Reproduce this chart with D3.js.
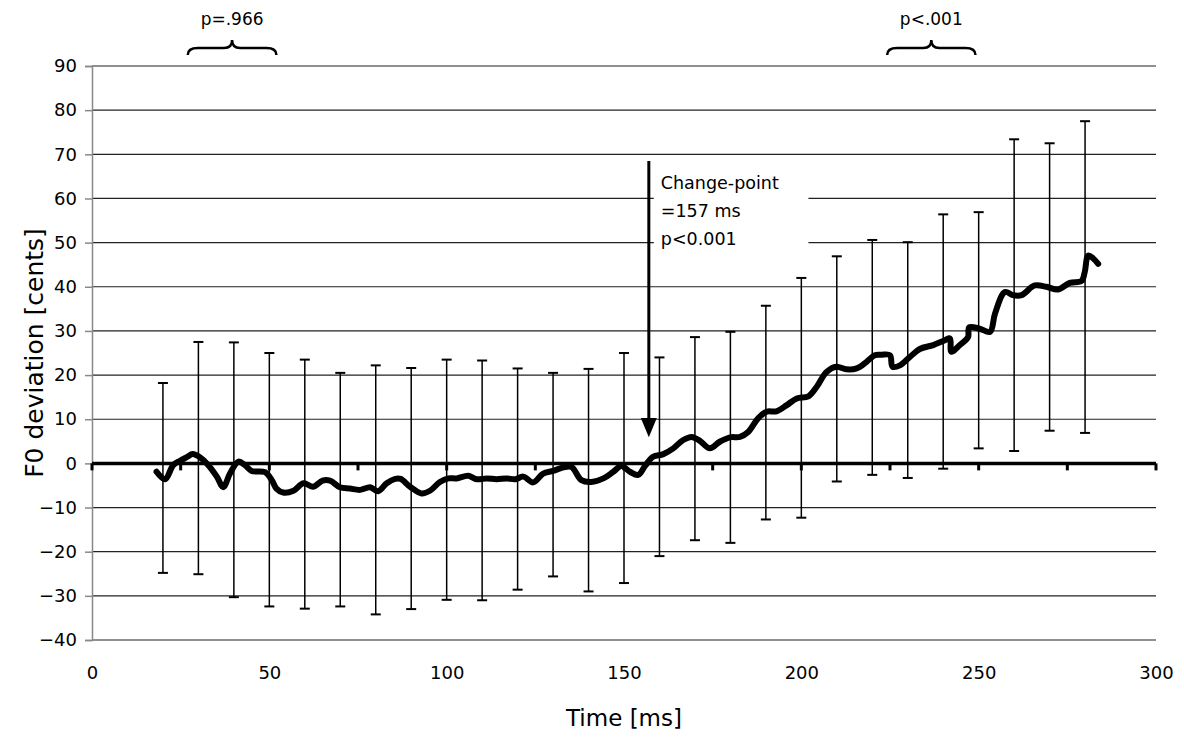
<!DOCTYPE html>
<html>
<head>
<meta charset="utf-8">
<script src="https://cdn.jsdelivr.net/npm/d3@7"></script>
<style>
  body { margin: 0; background: #fff; }
  svg { display: block; }
  text { font-family: "DejaVu Sans", Verdana, sans-serif; fill: #000; }
</style>
</head>
<body>
<svg width="1184" height="740"></svg>
<script>
// error bars, every 10 ms
const barTime = [20, 30, 40, 50, 60, 70, 80, 90, 100, 110, 120, 130, 140, 150, 160, 170, 180, 190, 200, 210, 220, 230, 240, 250, 260, 270, 280];
const barUpper = [18.2, 27.5, 27.4, 25.0, 23.5, 20.5, 22.2, 21.6, 23.5, 23.3, 21.5, 20.5, 21.4, 25.0, 24.0, 28.6, 29.8, 35.7, 42.0, 46.9, 50.6, 50.1, 56.4, 56.9, 73.4, 72.5, 77.5];
const barLower = [-24.8, -25.1, -30.3, -32.4, -32.9, -32.4, -34.2, -33.0, -30.9, -31.0, -28.6, -25.6, -29.0, -27.1, -21.0, -17.4, -18.0, -12.7, -12.3, -4.1, -2.6, -3.3, -1.2, 3.4, 2.8, 7.4, 6.9];

// mean F0 deviation curve
const meanTime = [18.2, 20.6, 22.9, 24.8, 26.7, 28.4, 30.4, 32.8, 35.2, 37.0, 38.9, 41.3, 43.1, 45.0, 48.8, 50.7, 52.0, 53.9, 56.8, 59.6, 62.4, 65.0, 67.1, 69.9, 72.7, 75.6, 78.4, 80.7, 83.1, 85.5, 87.0, 89.7, 92.9, 95.3, 98.1, 100.5, 102.8, 106.1, 108.5, 111.3, 114.1, 116.9, 119.3, 121.6, 124.4, 127.2, 130.0, 132.9, 135.2, 138.0, 140.8, 144.2, 147.0, 149.3, 151.7, 154.0, 156.0, 158.2, 161.1, 163.9, 166.7, 169.1, 171.4, 174.2, 177.0, 179.9, 182.7, 185.0, 187.8, 190.2, 193.0, 195.9, 198.7, 202.0, 204.3, 207.1, 209.9, 212.7, 215.6, 218.4, 220.7, 222.5, 225.0, 225.7, 227.8, 230.6, 233.4, 237.2, 240.5, 241.9, 242.3, 244.7, 247.0, 247.3, 250.3, 253.2, 254.6, 257.4, 259.7, 262.1, 265.8, 269.1, 272.4, 275.7, 279.0, 279.9, 280.9, 282.3, 283.7];
const meanValue = [-1.9, -3.6, -0.4, 0.6, 1.4, 2.1, 1.4, -0.4, -3.0, -5.4, -2.3, 0.4, -0.4, -1.7, -2.0, -3.8, -5.7, -6.6, -6.2, -4.5, -5.3, -3.9, -3.9, -5.4, -5.7, -6.0, -5.4, -6.3, -4.5, -3.5, -3.5, -5.3, -6.8, -6.2, -4.2, -3.4, -3.4, -2.8, -3.6, -3.4, -3.6, -3.4, -3.6, -3.0, -4.3, -2.3, -1.7, -0.9, -0.8, -3.8, -4.2, -3.4, -1.9, -0.6, -1.9, -2.6, -0.5, 1.5, 2.1, 3.4, 5.3, 6.0, 5.1, 3.4, 4.9, 5.9, 6.0, 7.1, 10.2, 11.7, 11.8, 13.2, 14.7, 15.2, 17.3, 20.7, 21.9, 21.3, 21.5, 23.0, 24.5, 24.6, 24.5, 21.9, 22.2, 24.1, 25.9, 26.8, 27.9, 28.3, 25.3, 26.8, 28.6, 30.8, 30.5, 29.8, 33.9, 38.8, 38.1, 38.1, 40.3, 40.0, 39.4, 40.9, 41.3, 43.3, 47.1, 46.4, 45.2];

const xTicks = [0, 50, 100, 150, 200, 250, 300];
const yTicks = [-40, -30, -20, -10, 0, 10, 20, 30, 40, 50, 60, 70, 80, 90];
const zeroTicks = d3.range(0, 301, 25);

const changePoint = 157;
const changeText = ["Change-point", "=157 ms", "p<0.001"];
const braces = [
  { from: 27, to: 52, label: "p=.966" },
  { from: 224.2, to: 249.1, label: "p<.001" }
];

const svg = d3.select("svg");
const x = d3.scaleLinear().domain([0, 300]).range([92, 1156]);
const y = d3.scaleLinear().domain([-40, 90]).range([640, 66]);

// horizontal gridlines
svg.append("g")
  .selectAll("line")
  .data(yTicks.filter(d => d !== 0))
  .join("line")
  .attr("x1", x(0)).attr("x2", x(300))
  .attr("y1", d => y(d)).attr("y2", d => y(d))
  .attr("stroke", "#222").attr("stroke-width", 1.2);

// y axis
const yAxis = svg.append("g")
  .attr("transform", `translate(${x(0)},0)`)
  .call(d3.axisLeft(y).tickValues(yTicks).tickSize(7).tickPadding(8).tickFormat(d3.format("d")));
yAxis.select(".domain").attr("stroke", "#888").attr("stroke-width", 1.5);
yAxis.selectAll(".tick line").attr("stroke", "#888").attr("stroke-width", 1.5);
yAxis.selectAll("text").attr("font-size", 18).attr("font-family", "DejaVu Sans");

// x tick labels along the bottom
const xAxis = svg.append("g")
  .attr("transform", `translate(0,${y(-40)})`)
  .call(d3.axisBottom(x).tickValues(xTicks).tickSize(0).tickPadding(26));
xAxis.select(".domain").remove();
xAxis.selectAll("text").attr("font-size", 18).attr("font-family", "DejaVu Sans");

// white box behind the change-point text
svg.append("rect")
  .attr("x", x(changePoint) + 5).attr("y", y(67.5))
  .attr("width", x(202) - x(changePoint) - 5).attr("height", y(45.5) - y(67.5))
  .attr("fill", "#fff");

// zero line with ticks
svg.append("line")
  .attr("x1", x(0)).attr("x2", x(300))
  .attr("y1", y(0)).attr("y2", y(0))
  .attr("stroke", "#000").attr("stroke-width", 3.5);
svg.append("g")
  .selectAll("line")
  .data(zeroTicks)
  .join("line")
  .attr("x1", d => x(d)).attr("x2", d => x(d))
  .attr("y1", y(0)).attr("y2", y(0) + 7)
  .attr("stroke", "#000").attr("stroke-width", 3);

// error bars
const bars = svg.append("g").attr("stroke", "#000").attr("stroke-width", 1.5);
barTime.forEach((t, i) => {
  bars.append("line")
    .attr("x1", x(t)).attr("x2", x(t))
    .attr("y1", y(barUpper[i])).attr("y2", y(barLower[i]));
  [barUpper[i], barLower[i]].forEach(v => {
    bars.append("line")
      .attr("x1", x(t) - 5).attr("x2", x(t) + 5)
      .attr("y1", y(v)).attr("y2", y(v))
      .attr("stroke-width", 2);
  });
});

// mean curve
const line = d3.line().x(d => x(d[0])).y(d => y(d[1])).curve(d3.curveCatmullRom);
svg.append("path")
  .datum(meanTime.map((t, i) => [t, meanValue[i]]))
  .attr("d", line)
  .attr("fill", "none")
  .attr("stroke", "#000")
  .attr("stroke-width", 6)
  .attr("stroke-linejoin", "round")
  .attr("stroke-linecap", "round");

// change-point arrow
const ax = x(changePoint);
svg.append("line")
  .attr("x1", ax).attr("x2", ax)
  .attr("y1", y(68.5)).attr("y2", y(10))
  .attr("stroke", "#000").attr("stroke-width", 3);
svg.append("path")
  .attr("d", `M${ax - 8},${y(10.3)} L${ax + 8},${y(10.3)} L${ax},${y(5.9)} Z`)
  .attr("fill", "#000");
svg.append("g")
  .selectAll("text")
  .data(changeText)
  .join("text")
  .attr("x", ax + 12)
  .attr("y", (d, i) => 189 + i * 28)
  .attr("font-size", 17.5)
  .text(d => d);

// significance braces
braces.forEach(b => {
  const x0 = x(b.from), x1 = x(b.to), xm = (x0 + x1) / 2;
  const top = 40, mid = 48, end = 55;
  svg.append("path")
    .attr("d", `M${x0},${end} Q${x0},${mid} ${x0 + 10},${mid} L${xm - 8},${mid} Q${xm},${mid} ${xm},${top}` +
               ` Q${xm},${mid} ${xm + 8},${mid} L${x1 - 10},${mid} Q${x1},${mid} ${x1},${end}`)
    .attr("fill", "none")
    .attr("stroke", "#000")
    .attr("stroke-width", 2.5);
  svg.append("text")
    .attr("x", xm).attr("y", 25)
    .attr("text-anchor", "middle")
    .attr("font-size", 17)
    .text(b.label);
});

// axis titles
svg.append("text")
  .attr("x", x(150)).attr("y", 726)
  .attr("text-anchor", "middle")
  .attr("font-size", 23)
  .text("Time [ms]");
svg.append("text")
  .attr("transform", `translate(43,${y(25)}) rotate(-90)`)
  .attr("text-anchor", "middle")
  .attr("font-size", 25)
  .text("F0 deviation [cents]");
</script>
</body>
</html>
